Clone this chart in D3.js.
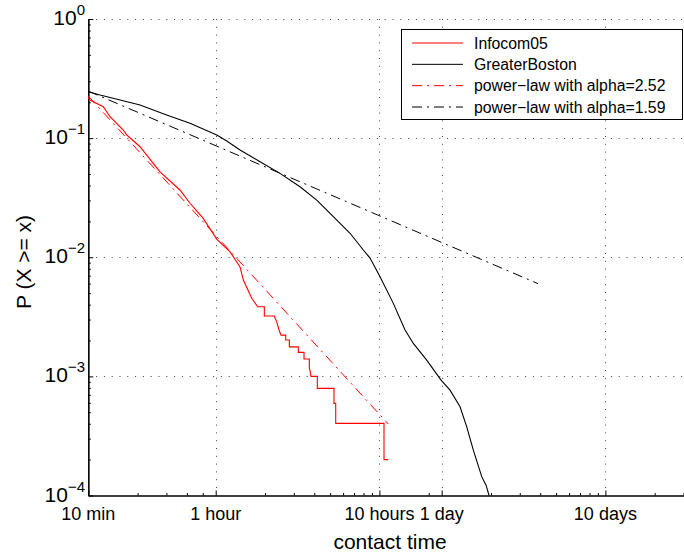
<!DOCTYPE html>
<html>
<head>
<meta charset="utf-8">
<script src="https://cdn.jsdelivr.net/npm/d3@7"></script>
<style>
  body { margin: 0; background: #fff; }
  svg { font-family: "Liberation Sans", Arial, sans-serif; }
</style>
</head>
<body>
<script>
var width = 684;
var height = 555;

// contact time in minutes, P(X >= x)
var infocomMinutes = [10, 10.24, 12.35, 13.57, 16.36, 17.2, 20.7, 27.4, 36.3, 41.8, 50.2, 60.9, 73.4, 84.5, 88.5, 99.6, 108.3,
  118.9, 118.9, 136.8, 141.5, 146.2, 150.4, 160.6, 160.6, 169, 169, 191.8, 191.8, 207.8, 207.8, 223.9, 223.9, 229.4,
  250.5, 250.5, 316.7, 316.7, 324.5, 324.5, 640, 640, 680];
var infocomP = [0.220, 0.209, 0.1835, 0.1512, 0.117, 0.1062, 0.0847, 0.052, 0.0367, 0.0284, 0.0213, 0.0142, 0.0111, 0.0083, 0.00644, 0.00452, 0.00384,
  0.00384, 0.00321, 0.00321, 0.00287, 0.00245, 0.00222, 0.00222, 0.00202, 0.00202, 0.00177, 0.00177, 0.00159, 0.00159, 0.0014, 0.0014, 0.00119, 0.001,
  0.001, 0.000793, 0.000793, 0.000593, 0.000593, 0.000403, 0.000403, 0.0002, 0.0002];

var bostonMinutes = [10, 11.8, 20.7, 30.1, 41.8, 60.9, 70.1, 84.5, 111.9, 148.3, 196.4, 248.5, 313.8, 397, 478.6, 525.9,
  605.3, 729.6, 860.4, 966.7, 1167, 1428, 1620, 1865, 2049, 2248, 2530, 2688, 2804];
var bostonP = [0.2453, 0.230, 0.1897, 0.1563, 0.1331, 0.1062, 0.0945, 0.0795, 0.0633, 0.0506, 0.0391, 0.0302, 0.0219, 0.0159, 0.0115, 0.00985,
  0.00686, 0.0041, 0.00245, 0.00189, 0.00137, 0.00093, 0.000767, 0.000556, 0.000377, 0.00024, 0.000144, 0.000122, 0.0001];

// fitted power laws (end points)
var fitInfocomMinutes = [10, 680];
var fitInfocomP = [0.225, 0.000398];
var fitBostonMinutes = [10, 5585];
var fitBostonP = [0.248, 0.006];

var legendLabels = ["Infocom05", "GreaterBoston", "power\u2212law with alpha=2.52", "power\u2212law with alpha=1.59"];

var xTickValues = [10, 60, 600, 1440, 14400];
var xTickLabels = ["10 min", "1 hour", "10 hours", "1 day", "10 days"];
var xMinorTicks = [20, 30, 40, 50, 120, 180, 240, 300, 360, 420, 480, 540, 1200, 2880, 4320, 5760, 7200, 8640, 10080, 11520, 12960, 28800, 43200];
var yTickValues = [1e-4, 1e-3, 1e-2, 1e-1, 1];
var yTickExp = ["\u22124", "\u22123", "\u22122", "\u22121", "0"];

var pLeft = 88.3, pRight = 683.5, pTop = 19, pBottom = 495.5;

var x = d3.scaleLog().domain([10, 43200]).range([pLeft, pRight]);
var y = d3.scaleLog().domain([1e-4, 1]).range([pBottom, pTop]);

var yMinorTicks = [];
[1e-4, 1e-3, 1e-2, 1e-1].forEach(function(d) {
  for (var k = 2; k <= 9; k++) yMinorTicks.push(d * k);
});

var svg = d3.select("body").append("svg")
  .attr("width", width)
  .attr("height", height);

svg.append("rect").attr("width", width).attr("height", height).attr("fill", "#fff");

// grid
var grid = svg.append("g").attr("stroke", "#444").attr("stroke-width", 1).attr("stroke-dasharray", "1,6.8");
grid.selectAll(".gy").data([1e-3, 1e-2, 1e-1, 1]).enter().append("line")
  .attr("x1", pLeft).attr("x2", width)
  .attr("y1", function(d) { return Math.round(y(d)) + 0.5; })
  .attr("y2", function(d) { return Math.round(y(d)) + 0.5; });
grid.selectAll(".gx").data([60, 600, 1440, 14400]).enter().append("line")
  .attr("y1", pTop).attr("y2", pBottom)
  .attr("x1", function(d) { return Math.round(x(d)) + 0.5; })
  .attr("x2", function(d) { return Math.round(x(d)) + 0.5; });

// axes
var xAxisG = svg.append("g").attr("transform", "translate(0," + pBottom + ")");
xAxisG.append("g").call(d3.axisBottom(x).tickValues(xMinorTicks).tickFormat("").tickSizeInner(-2.5).tickSizeOuter(0));
xAxisG.append("g").call(d3.axisBottom(x).tickValues(xTickValues).tickFormat("").tickSizeInner(-5).tickSizeOuter(0));

var yAxisG = svg.append("g").attr("transform", "translate(" + pLeft + ",0)");
yAxisG.append("g").call(d3.axisLeft(y).tickValues(yMinorTicks).tickFormat("").tickSizeInner(-2.5).tickSizeOuter(0));
yAxisG.append("g").call(d3.axisLeft(y).tickValues(yTickValues).tickFormat("").tickSizeInner(-5).tickSizeOuter(0));

svg.selectAll(".domain").attr("stroke", "#000").attr("stroke-width", 1.2);
svg.selectAll(".tick line").attr("stroke", "#000");

// x tick labels, centred under the major ticks
svg.selectAll(".xlab").data(xTickValues).enter().append("text")
  .attr("x", function(d) { return x(d); })
  .attr("y", 520)
  .attr("text-anchor", "middle")
  .attr("font-size", "18px")
  .text(function(d, i) { return xTickLabels[i]; });

// y tick labels: 10^k
var ylab = svg.selectAll(".ylab").data(yTickValues).enter().append("text")
  .attr("x", 85)
  .attr("y", function(d) { return y(d) + 6; })
  .attr("text-anchor", "end")
  .attr("font-size", "21px");
ylab.append("tspan").text("10");
ylab.append("tspan").attr("dy", -10).attr("font-size", "15px").text(function(d, i) { return yTickExp[i]; });

// axis titles
svg.append("text")
  .attr("x", 390).attr("y", 549)
  .attr("text-anchor", "middle")
  .attr("font-size", "21px")
  .text("contact time");

svg.append("text")
  .attr("transform", "translate(31,262) rotate(-90)")
  .attr("text-anchor", "middle")
  .attr("font-size", "21px")
  .text("P (X >= x)");

// curves
var line = d3.line()
  .x(function(d) { return x(d[0]); })
  .y(function(d) { return y(d[1]); });

function pairs(xs, ys) {
  return xs.map(function(v, i) { return [v, ys[i]]; });
}

var plot = svg.append("g");

plot.append("path")
  .datum(pairs(fitBostonMinutes, fitBostonP))
  .attr("d", line)
  .attr("fill", "none")
  .attr("stroke", "#000")
  .attr("stroke-width", 1)
  .attr("stroke-dasharray", "10,5,2,5");

plot.append("path")
  .datum(pairs(fitInfocomMinutes, fitInfocomP))
  .attr("d", line)
  .attr("fill", "none")
  .attr("stroke", "#ff0000")
  .attr("stroke-width", 1)
  .attr("stroke-dasharray", "10,5,2,5");

plot.append("path")
  .datum(pairs(bostonMinutes, bostonP))
  .attr("d", line)
  .attr("fill", "none")
  .attr("stroke", "#000")
  .attr("stroke-width", 1.1);

plot.append("path")
  .datum(pairs(infocomMinutes, infocomP))
  .attr("d", line)
  .attr("fill", "none")
  .attr("stroke", "#ff0000")
  .attr("stroke-width", 1.1);

// legend
var legend = svg.append("g");
legend.append("rect")
  .attr("x", 401.5).attr("y", 29.5)
  .attr("width", 281).attr("height", 90)
  .attr("fill", "#fff")
  .attr("stroke", "#000")
  .attr("stroke-width", 1);

var legendStyles = [
  { color: "#ff0000", dash: null },
  { color: "#000", dash: null },
  { color: "#ff0000", dash: "10,5,2,5" },
  { color: "#000", dash: "10,5,2,5" }
];

var legendY = d3.scalePoint().domain(d3.range(legendLabels.length)).range([43, 107]);

var items = legend.selectAll(".item").data(legendLabels).enter().append("g")
  .attr("transform", function(d, i) { return "translate(0," + legendY(i) + ")"; });

items.append("line")
  .attr("x1", 412).attr("x2", 463)
  .attr("y1", 0).attr("y2", 0)
  .attr("stroke", function(d, i) { return legendStyles[i].color; })
  .attr("stroke-width", 1)
  .attr("stroke-dasharray", function(d, i) { return legendStyles[i].dash; });

items.append("text")
  .attr("x", 474)
  .attr("y", 5.5)
  .attr("font-size", "15.8px")
  .text(function(d) { return d; });
</script>
</body>
</html>
